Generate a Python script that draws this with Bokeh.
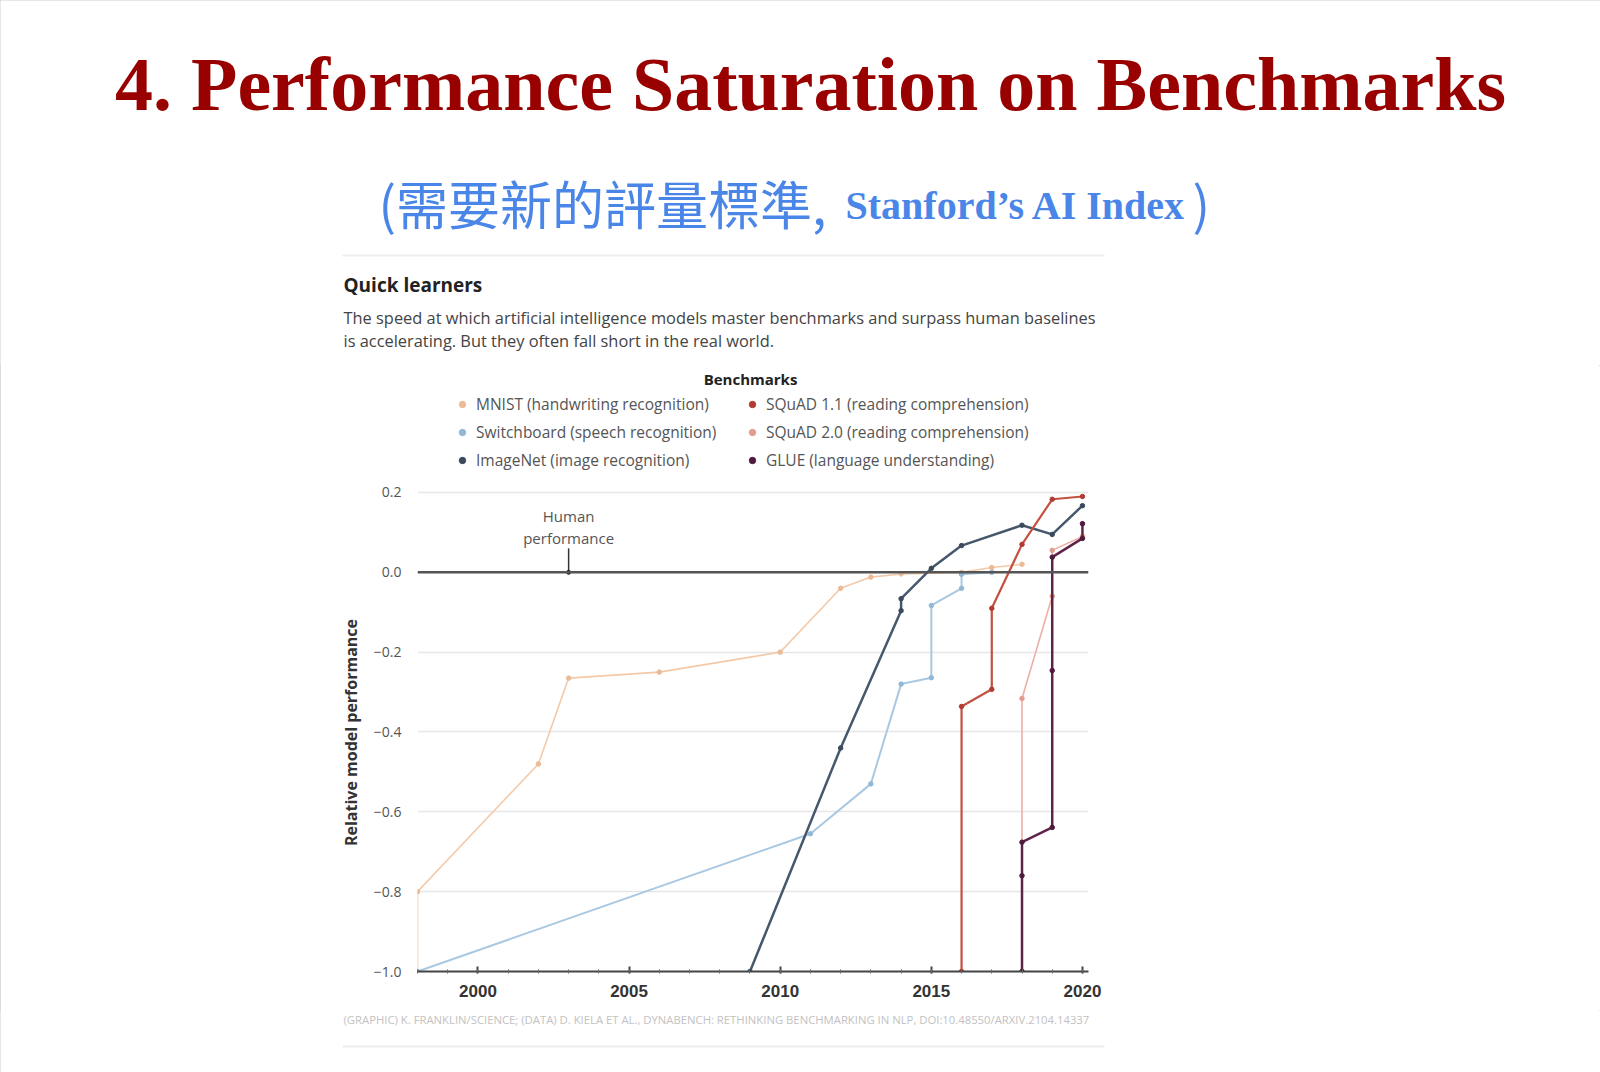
from bokeh.plotting import figure
from bokeh.layouts import column
from bokeh.models import (Range1d, Label, Legend, LegendItem, Span, SingleIntervalTicker,
                          FixedTicker, CustomJSTickFormatter)
from bokeh.embed import file_html
from bokeh.resources import INLINE

# ---------------- data ----------------
benchmarks = ["MNIST (handwriting recognition)", "Switchboard (speech recognition)",
              "ImageNet (image recognition)", "SQuAD 1.1 (reading comprehension)",
              "SQuAD 2.0 (reading comprehension)", "GLUE (language understanding)"]

mnist_year = [1998, 1998, 2002, 2003, 2006, 2010, 2012, 2013, 2014, 2016, 2017, 2018]
mnist_perf = [-1.0, -0.80, -0.48, -0.265, -0.25, -0.20, -0.04, -0.012, -0.004, 0.0, 0.012, 0.02]

switchboard_year = [1998, 2011, 2013, 2014, 2015, 2015, 2016, 2016, 2017]
switchboard_perf = [-1.0, -0.655, -0.53, -0.28, -0.264, -0.083, -0.04, -0.005, 0.0]

imagenet_year = [2009, 2012, 2014, 2014, 2015, 2016, 2018, 2019, 2020]
imagenet_perf = [-1.0, -0.44, -0.096, -0.066, 0.01, 0.067, 0.118, 0.095, 0.167]

squad11_year = [2016, 2016, 2017, 2017, 2018, 2019, 2020]
squad11_perf = [-1.0, -0.336, -0.293, -0.09, 0.07, 0.183, 0.19]

squad20_year = [2018, 2018, 2019, 2019, 2020]
squad20_perf = [-1.0, -0.316, -0.06, 0.055, 0.09]

glue_year = [2018, 2018, 2018, 2019, 2019, 2019, 2020, 2020]
glue_perf = [-1.0, -0.76, -0.676, -0.639, -0.246, 0.038, 0.085, 0.122]

human_year = [2003]
human_level = [0.0]

y_ticks = [-1.0, -0.8, -0.6, -0.4, -0.2, 0.0, 0.2]

title_text = "4. Performance Saturation on Benchmarks"
subtitle_cjk = "(需要新的評量標準,"
subtitle_en = "Stanford\u2019s AI Index"
chart_title = "Quick learners"
desc_1 = "The speed at which artificial intelligence models master benchmarks and surpass human baselines"
desc_2 = "is accelerating. But they often fall short in the real world."
legend_title = "Benchmarks"
y_label = "Relative model performance"
footnote = ("(GRAPHIC) K. FRANKLIN/SCIENCE; (DATA) D. KIELA ET AL., DYNABENCH: RETHINKING "
            "BENCHMARKING IN NLP, DOI:10.48550/ARXIV.2104.14337")

# ---------------- layout (page pixels) ----------------
W, H = 1600, 1072
TOP_H = 365           # header strip height
CH_TOP, CH_BOT = TOP_H, 1010   # chart figure spans these page rows
FL, FR, FB = 417, 1088, 971    # frame left/right/bottom in page pixels
X0, X1 = 1998, 2020.2
Y0 = -1.0
SY = 399.2                      # px per unit of relative performance
Y1 = 0.2 + (492 - CH_TOP) / SY  # so that 0.2 lands on page row 492
SX = (FR - FL) / (X1 - X0)

BLUE = "#4a86e8"
SANS = "Open Sans"


def plain_fig(h):
    f = figure(width=W, height=h, output_backend="svg", toolbar_location=None,
               x_range=Range1d(0, W), y_range=Range1d(h, 0),
               x_axis_type=None, y_axis_type=None, min_border=0,
               background_fill_color="white", border_fill_color="white",
               frame_align=False)
    f.outline_line_color = None
    f.xgrid.grid_line_color = None
    f.ygrid.grid_line_color = None
    return f


def lab(f, x, y, text, **kw):
    f.add_layout(Label(x=x, y=y, text=text, **kw))


# ---------------- header ----------------
top = plain_fig(TOP_H)
lab(top, 810, 83, title_text, text_align="center", text_baseline="alphabetic",
    text_font="Liberation Serif", text_font_style="bold", text_font_size="76px",
    text_color="#990000")
lab(top, 378, 202, subtitle_cjk, text_align="left", text_baseline="alphabetic",
    text_font="Noto Sans CJK TC", text_font_size="52px", text_color=BLUE)
lab(top, 845, 205, subtitle_en, text_align="left", text_baseline="alphabetic",
    text_font="Liberation Serif", text_font_style="bold", text_font_size="40px",
    text_color=BLUE)
lab(top, 1192, 202, ")", text_align="left", text_baseline="alphabetic",
    text_font="Noto Sans CJK TC", text_font_size="52px", text_color=BLUE)
sep_x = [342, 1104]
top.line(sep_x, [255, 255], line_color="#eeeeee", line_width=2)
lab(top, 343, 284, chart_title, text_align="left", text_baseline="middle",
    text_font=SANS, text_font_style="bold", text_font_size="19px", text_color="#222222")
lab(top, 343, 317, desc_1, text_align="left", text_baseline="middle",
    text_font=SANS, text_font_size="16.4px", text_color="#444444")
lab(top, 343, 340, desc_2, text_align="left", text_baseline="middle",
    text_font=SANS, text_font_size="16.4px", text_color="#444444")

# ---------------- chart ----------------
p = figure(width=W, height=CH_BOT - CH_TOP, output_backend="svg", toolbar_location=None,
           x_range=Range1d(X0, X1), y_range=Range1d(Y0, Y1),
           min_border_left=FL, min_border_right=W - FR,
           min_border_top=0, min_border_bottom=CH_BOT - FB,
           background_fill_color="white", border_fill_color="white",
           frame_align=False)
p.outline_line_color = None

xa = p.xaxis[0]
xa.ticker = SingleIntervalTicker(interval=5, num_minor_ticks=5)
xa.axis_line_color = "#444444"
xa.axis_line_width = 2
xa.major_tick_line_color = "#444444"
xa.major_tick_line_width = 2
xa.major_tick_in = 5
xa.major_tick_out = 2
xa.minor_tick_line_color = "#666666"
xa.minor_tick_in = 2
xa.minor_tick_out = 2
xa.major_label_text_font = "Liberation Sans"
xa.major_label_text_font_style = "bold"
xa.major_label_text_font_size = "17px"
xa.major_label_text_color = "#333333"
xa.major_label_standoff = 11

ya = p.yaxis[0]
ya.ticker = FixedTicker(ticks=y_ticks)
ya.bounds = (y_ticks[0], y_ticks[-1])
ya.formatter = CustomJSTickFormatter(
    code="return (tick < -1e-9 ? '\u2212' : '') + Math.abs(tick).toFixed(1);")
ya.axis_line_color = None
ya.major_tick_line_color = None
ya.minor_tick_line_color = None
ya.major_label_text_font = SANS
ya.major_label_text_font_size = "14px"
ya.major_label_text_color = "#555555"
ya.major_label_standoff = 10
# trailing em spaces centre the visible words on the -1.0..0.2 span (the frame reaches higher)
ya.axis_label = y_label + "\u2003" * 8
ya.axis_label_text_font = SANS
ya.axis_label_text_font_style = "bold"
ya.axis_label_text_font_size = "16px"
ya.axis_label_text_color = "#333333"
ya.axis_label_standoff = 9

p.xgrid.grid_line_color = None
p.ygrid.grid_line_color = "#e6e6e6"
p.ygrid.grid_line_width = 1.5

p.add_layout(Span(location=0, dimension="width", line_color="#555555", line_width=2.5))

series = [
    (mnist_year, mnist_perf, "#f4c9a8", "#ecbb96", 1.6),
    (switchboard_year, switchboard_perf, "#a9c8e2", "#93b8d6", 2.0),
    (imagenet_year, imagenet_perf, "#46586c", "#3a4a5c", 2.5),
    (squad11_year, squad11_perf, "#c4503f", "#b23c33", 2.2),
    (squad20_year, squad20_perf, "#ebb0a5", "#e29d90", 1.6),
    (glue_year, glue_perf, "#5e2448", "#4f1a3c", 2.5),
]

items = []
for (xs, ys, lc, mc, lw), name in zip(series, benchmarks):
    p.line(xs, ys, line_color=lc, line_width=lw)
    r = p.scatter(xs, ys, size=4.5, fill_color=mc, line_color=mc)
    items.append(LegendItem(label=name, renderers=[r]))

p.segment(x0=human_year, y0=[v + 0.06 for v in human_level], x1=human_year, y1=human_level,
          line_color="#333333", line_width=1.5)
p.scatter(human_year, human_level, size=4, color="#222222")

LEG_TOP, LEG_LEFT, LEG_H = 399, 454, 72
legend = Legend(items=items, ncols=2, location=(LEG_LEFT - FL, FB - LEG_TOP - LEG_H),
                orientation="vertical", border_line_color=None, background_fill_alpha=0,
                label_text_font=SANS, label_text_font_size="15.5px",
                label_text_color="#555555", glyph_width=16, glyph_height=20,
                label_height=20, label_width=262, spacing=6, label_standoff=6,
                padding=0, margin=0)
p.add_layout(legend)


def py(page_row):
    return Y1 - (page_row - CH_TOP) / SY


lab(p, X0 + (750 - FL) / SX, py(379), legend_title, text_align="center", text_baseline="middle",
    text_font=SANS, text_font_style="bold", text_font_size="15px", text_color="#222222")
lab(p, human_year[0], py(516), "Human", text_align="center", text_baseline="middle",
    text_font=SANS, text_font_size="15px", text_color="#555555")
lab(p, human_year[0], py(538), "performance", text_align="center", text_baseline="middle",
    text_font=SANS, text_font_size="15px", text_color="#555555")

# ---------------- footer ----------------
bot = plain_fig(H - CH_BOT)
lab(bot, 343, 1019 - CH_BOT, footnote, text_align="left", text_baseline="middle",
    text_font=SANS, text_font_size="11.3px", text_color="#c2c2c2")
bot.line(sep_x, [1046 - CH_BOT] * 2, line_color="#eeeeee", line_width=2)

page = column(top, p, bot, spacing=0,
              styles={"outline": "1px solid #cfcfcf", "outline-offset": "-1px"})
open("out.html", "w").write(file_html(page, INLINE))
